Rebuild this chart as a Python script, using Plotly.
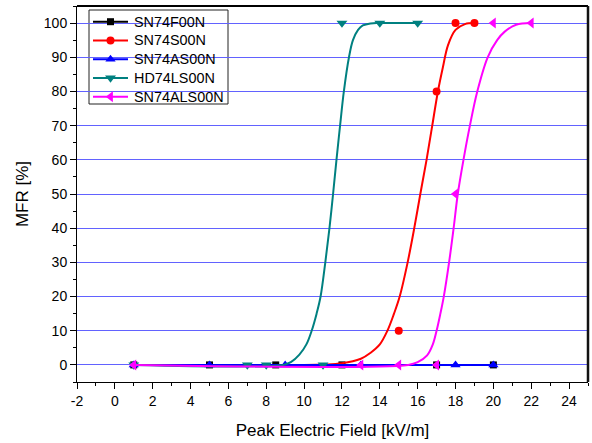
import plotly.graph_objects as go

# ---- data ----
f00_x = [1, 5, 8.5, 12, 17, 20]
f00_y = [0, 0, 0, 0, 0, 0]

s00_x = [15, 17, 18, 19]
s00_y = [10, 80, 100, 100]
s00_fit_x = [10, 12, 13, 13.5, 14, 14.4, 14.75, 15.05, 15.47, 15.82, 16.14, 16.47, 16.77, 17.07, 17.33, 17.6, 18.0, 18.5, 19]
s00_fit_y = [0, 0.5, 1.8, 3.5, 6, 10, 15, 20, 30, 40, 50, 60, 70, 80, 87, 93.5, 98, 99.7, 100]

as00_x = [1, 5, 9, 13, 18, 20]
as00_y = [0, 0, 0, 0, 0, 0]

ls00_x = [1, 7, 8, 11, 12, 14, 16]
ls00_y = [0, 0, 0, 0, 100, 100, 100]
ls00_fit_x = [1, 8.9, 9.3, 9.75, 10.12, 10.4, 10.66, 10.87, 11.12, 11.34, 11.53, 11.71, 11.9, 12.1, 12.37, 12.58, 12.85, 13.1, 13.5, 14, 16]
ls00_fit_y = [0, 0, 0.8, 3, 6, 10, 15, 20, 30, 40, 50, 60, 70, 80, 90, 95, 98, 99.3, 99.9, 100, 100]

als00_x = [1, 13, 15, 17, 18, 20, 22]
als00_y = [0, 0, 0, 0, 50, 100, 100]
als00_fit_x = [1, 15.5, 16.0, 16.5, 16.8, 17.0, 17.2, 17.38, 17.66, 17.9, 18.12, 18.42, 18.76, 19.15, 19.7, 20.2, 20.6, 21.2, 22]
als00_fit_y = [0, 0, 0.8, 2.8, 6, 10, 15, 20, 30, 40, 50, 60, 70, 80, 90, 95, 97.5, 99.5, 100]

names = ["SN74F00N", "SN74S00N", "SN74AS00N", "HD74LS00N", "SN74ALS00N"]
colors = ["#000000", "#ff0000", "#0000ff", "#008080", "#ff00ff"]
symbols = ["square", "circle", "triangle-up", "triangle-down", "triangle-left"]
sizes = [7, 8, 9, 9.5, 9.5]

x_ticks = list(range(-2, 25, 2))
y_ticks = list(range(0, 101, 10))

FONT = "Arial, Liberation Sans, sans-serif"

# ---- layout geometry (pixels) ----
W, H = 592, 443
PL, PR, PT, PB = 77, 588, 6, 382


def px_x(p):
    return (p - PL) / (PR - PL)


def px_y(p):
    return (PB - p) / (PB - PT)


fig = go.Figure()


def add_flat(i, xs, ys):
    fig.add_trace(go.Scatter(
        x=xs, y=ys, mode="lines+markers", name=names[i], showlegend=False,
        line=dict(color=colors[i], width=2),
        marker=dict(symbol=symbols[i], size=sizes[i], color=colors[i], line=dict(width=0)),
    ))


def add_fit(i, xs, ys, fx, fy):
    fig.add_trace(go.Scatter(
        x=fx, y=fy, mode="lines", showlegend=False, hoverinfo="skip",
        line=dict(color=colors[i], width=2, shape="spline", smoothing=1.0),
    ))
    fig.add_trace(go.Scatter(
        x=xs, y=ys, mode="markers", name=names[i], showlegend=False,
        marker=dict(symbol=symbols[i], size=sizes[i], color=colors[i], line=dict(width=0)),
    ))


add_flat(0, f00_x, f00_y)
add_fit(1, s00_x, s00_y, s00_fit_x, s00_fit_y)
add_flat(2, as00_x, as00_y)
add_fit(3, ls00_x, ls00_y, ls00_fit_x, ls00_fit_y)
add_fit(4, als00_x, als00_y, als00_fit_x, als00_fit_y)

# ---- hand-built legend (box, sample lines, markers, labels) ----
LB_L, LB_R, LB_T, LB_B = 89, 228, 10, 104
ROW0, ROW_STEP = 21.7, 18.75
SYM_L, SYM_R, TXT_X = 93, 128, 132

shapes = [
    dict(type="rect", xref="paper", yref="paper", layer="between",
         x0=px_x(LB_L), x1=px_x(LB_R), y0=px_y(LB_B), y1=px_y(LB_T),
         fillcolor="white", line=dict(color="#222222", width=1)),
]
annotations = []
for i, nm in enumerate(names):
    yc = px_y(ROW0 + i * ROW_STEP)
    shapes.append(dict(type="line", xref="paper", yref="paper", layer="between",
                       x0=px_x(SYM_L), x1=px_x(SYM_R), y0=yc, y1=yc,
                       line=dict(color=colors[i], width=2)))
    fig.add_trace(go.Scatter(
        x=[px_x((SYM_L + SYM_R) / 2)], y=[yc], xaxis="x2", yaxis="y2",
        mode="markers", showlegend=False, hoverinfo="skip", cliponaxis=False,
        marker=dict(symbol=symbols[i], size=sizes[i], color=colors[i], line=dict(width=0)),
    ))
    annotations.append(dict(text=nm, xref="paper", yref="paper", x=px_x(TXT_X), y=yc,
                            xanchor="left", yanchor="middle", showarrow=False,
                            font=dict(family=FONT, size=14.4, color="black")))

shapes += [
    dict(type="line", xref="paper", yref="paper", x0=0, x1=1, y0=1, y1=1,
         line=dict(color="black", width=2)),
    dict(type="line", xref="paper", yref="paper", x0=1, x1=1, y0=0, y1=1,
         line=dict(color="#111111", width=2.5)),
]

fig.update_layout(
    width=W, height=H,
    margin=dict(l=PL, r=W - PR, t=PT, b=H - PB),
    paper_bgcolor="white", plot_bgcolor="white",
    font=dict(family=FONT, size=14, color="black"),
    showlegend=False,
    xaxis=dict(
        range=[-2, 25], tickmode="array", tickvals=x_ticks,
        ticktext=[str(v) for v in x_ticks],
        ticks="outside", ticklen=6, tickcolor="black", tickwidth=1,
        minor=dict(dtick=1, tick0=0, ticks="outside", ticklen=3, tickcolor="black", showgrid=False),
        showline=True, linecolor="black", linewidth=1,
        showgrid=False, zeroline=False,
        title=dict(text="Peak Electric Field [kV/m]", font=dict(family=FONT, size=17), standoff=16),
    ),
    yaxis=dict(
        range=[-5, 105], tickmode="array", tickvals=y_ticks,
        ticktext=[str(v) for v in y_ticks],
        ticks="outside", ticklen=6, tickcolor="black", tickwidth=1,
        minor=dict(dtick=5, tick0=0, ticks="outside", ticklen=3, tickcolor="black", showgrid=False),
        showline=True, linecolor="black", linewidth=1,
        showgrid=True, gridcolor="#6262ff", gridwidth=1, zeroline=False,
        title=dict(text="MFR [%]", font=dict(family=FONT, size=17), standoff=10),
    ),
    xaxis2=dict(range=[0, 1], overlaying="x", anchor="y2", visible=False, fixedrange=True),
    yaxis2=dict(range=[0, 1], overlaying="y", anchor="x2", visible=False, fixedrange=True),
    shapes=shapes,
    annotations=annotations,
)

fig.write_html("out.html")
